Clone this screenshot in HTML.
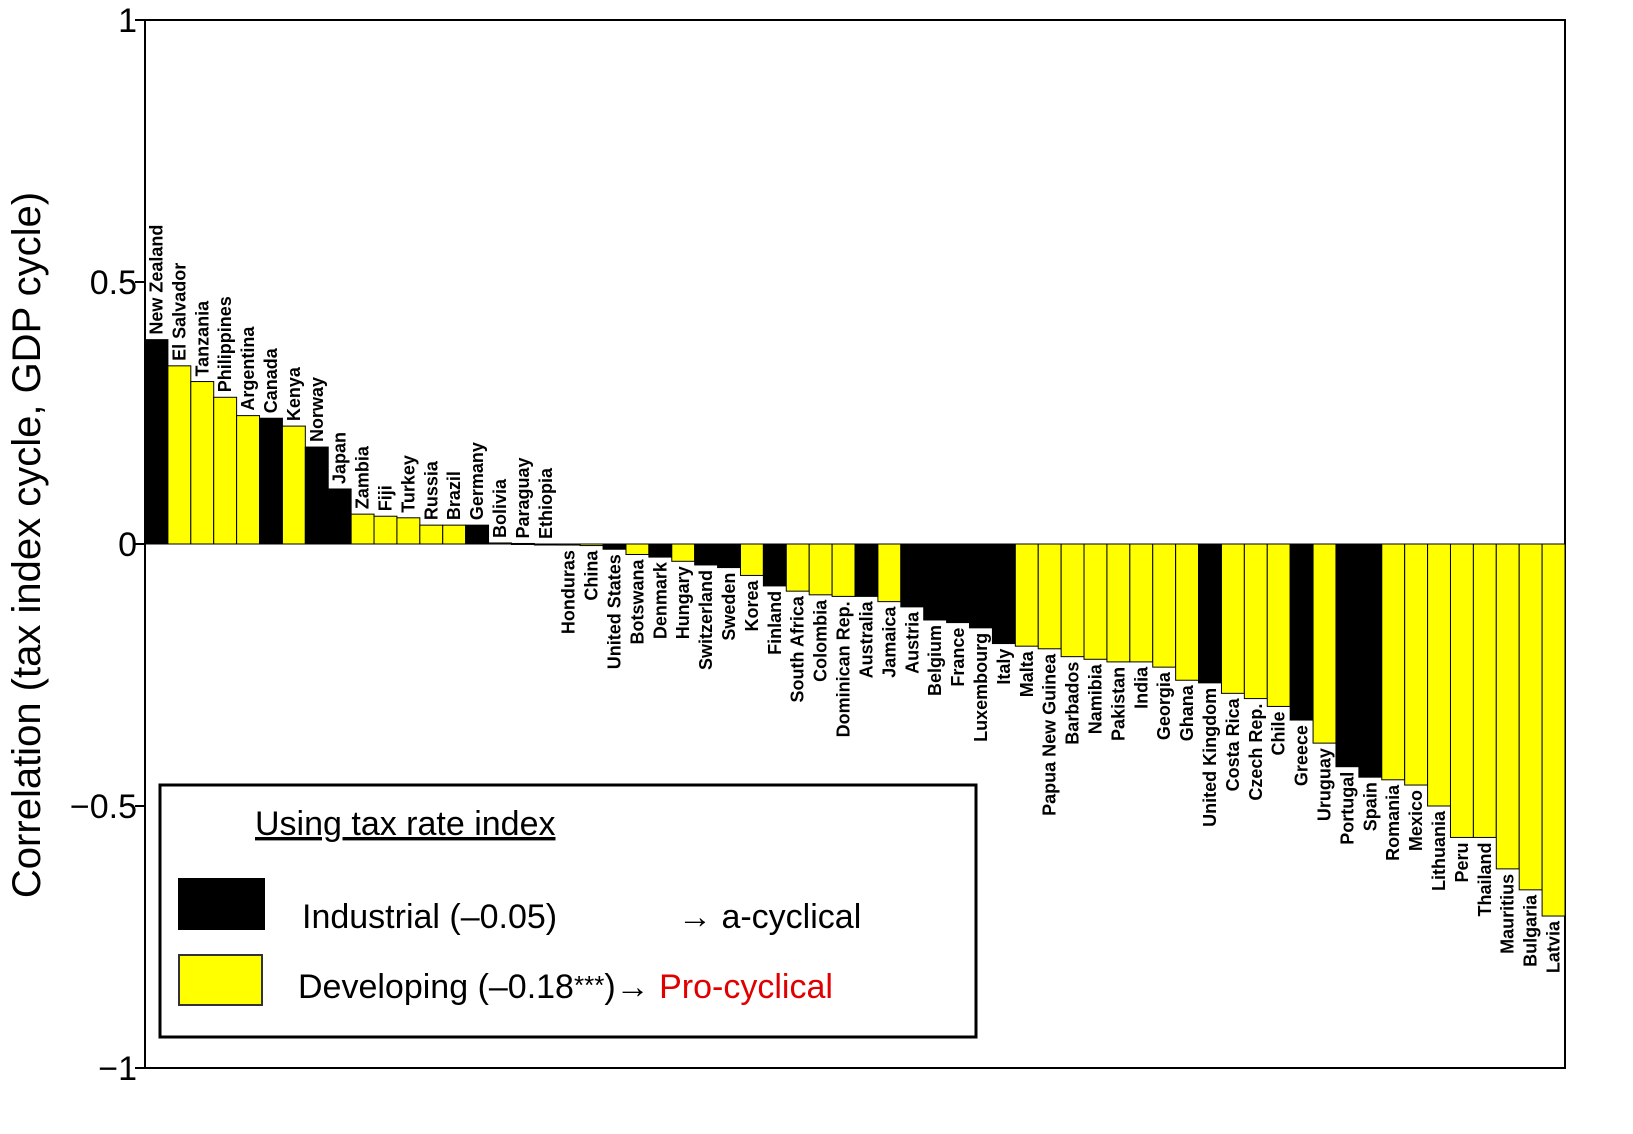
<!DOCTYPE html>
<html><head><meta charset="utf-8"><style>
body{margin:0;background:#fff;}
svg{display:block;font-family:"Liberation Sans",sans-serif;}
</style></head><body>
<svg id="chart" width="1633" height="1134" viewBox="0 0 1633 1134" xmlns="http://www.w3.org/2000/svg">
<g id="axes"></g>
<g id="bars"></g>
<g id="labels"></g>
<text transform="translate(40,545) rotate(-90)" text-anchor="middle" font-size="40">Correlation (tax index cycle, GDP cycle)</text>
<g>
<rect x="160" y="785" width="816" height="252" fill="#fff" stroke="#000" stroke-width="3"/>
<text x="255" y="835" font-size="34" text-decoration="underline">Using tax rate index</text>
<rect x="178" y="878" width="87" height="52" fill="#000"/>
<text x="302" y="928" font-size="34">Industrial (–0.05)</text>
<text x="678" y="928" font-size="34">→ a-cyclical</text>
<rect x="179" y="955" width="83" height="50" fill="#ffff00" stroke="#333" stroke-width="2"/>
<text x="298" y="998" font-size="34">Developing (–0.18<tspan font-size="26" dy="-4">***</tspan><tspan dy="4">)→ </tspan><tspan fill="#e00000">Pro-cyclical</tspan></text>
</g>
</svg>
<script>
const countries=["New Zealand","El Salvador","Tanzania","Philippines","Argentina","Canada","Kenya","Norway","Japan","Zambia","Fiji","Turkey","Russia","Brazil","Germany","Bolivia","Paraguay","Ethiopia","Honduras","China","United States","Botswana","Denmark","Hungary","Switzerland","Sweden","Korea","Finland","South Africa","Colombia","Dominican Rep.","Australia","Jamaica","Austria","Belgium","France","Luxembourg","Italy","Malta","Papua New Guinea","Barbados","Namibia","Pakistan","India","Georgia","Ghana","United Kingdom","Costa Rica","Czech Rep.","Chile","Greece","Uruguay","Portugal","Spain","Romania","Mexico","Lithuania","Peru","Thailand","Mauritius","Bulgaria","Latvia"];
const values=[0.39,0.34,0.31,0.28,0.245,0.24,0.225,0.185,0.105,0.057,0.053,0.05,0.036,0.036,0.036,0.002,0.001,0.0,-0.002,-0.003,-0.01,-0.02,-0.025,-0.033,-0.04,-0.045,-0.06,-0.08,-0.09,-0.097,-0.1,-0.1,-0.11,-0.12,-0.145,-0.15,-0.16,-0.19,-0.195,-0.2,-0.215,-0.22,-0.225,-0.225,-0.235,-0.26,-0.265,-0.285,-0.295,-0.31,-0.336,-0.38,-0.425,-0.445,-0.45,-0.46,-0.5,-0.56,-0.56,-0.62,-0.66,-0.71];
const groups=["I","D","D","D","D","I","D","I","I","D","D","D","D","D","I","D","D","D","D","D","I","D","I","D","I","I","D","I","D","D","D","I","D","I","I","I","I","I","D","D","D","D","D","D","D","D","I","D","D","D","I","D","I","I","D","D","D","D","D","D","D","D"];
const yTicks=[1,0.5,0,-0.5,-1];
const yTickLabels=["1","0.5","0","−0.5","−1"];
const NS="http://www.w3.org/2000/svg";
const X0=145,X1=1565,Y0=20,Y1=1068;
function y(v){return Y0+(1-v)/2*(Y1-Y0);}
const bw=(X1-X0)/countries.length;
function x(i){return X0+i*bw;}
function mk(t,a,p){const e=document.createElementNS(NS,t);for(const k in a)e.setAttribute(k,a[k]);p.appendChild(e);return e;}
const axes=document.getElementById('axes'),bars=document.getElementById('bars'),labels=document.getElementById('labels');
const frame=mk('rect',{x:X0,y:Y0,width:X1-X0,height:Y1-Y0,fill:'none',stroke:'#000','stroke-width':2},axes);


yTicks.forEach((t,i)=>{
 const tk=mk('line',{x1:X0-10,x2:X0,y1:y(t),y2:y(t),stroke:'#000','stroke-width':2},axes);
 
 
 const lb=mk('text',{x:X0-8,y:y(t)+12,'text-anchor':'end','font-size':34},axes);
 lb.textContent=yTickLabels[i];
 
 
});
values.forEach((v,i)=>{
 const top=Math.min(y(v),y(0)),h=Math.max(Math.abs(y(v)-y(0)),1);
 const r=mk('rect',{x:x(i),y:top,width:bw,height:h,fill:groups[i]==="I"?"#000":"#ffff00",stroke:'#000','stroke-width':1},bars);
 
 
 const cx=x(i)+bw/2+6;
 let t;
 if(v>=0){t=mk('text',{transform:`translate(${cx},${y(v)-5}) rotate(-90)`,'text-anchor':'start'},labels);}
 else{t=mk('text',{transform:`translate(${cx},${y(v)+5}) rotate(-90)`,'text-anchor':'end'},labels);}
 t.setAttribute('font-size','18');
 t.setAttribute('font-weight','bold');
 t.setAttribute('font-family','"Liberation Sans Narrow","Liberation Sans",sans-serif');
 t.textContent=countries[i];
 
 
});
const zl=mk('line',{x1:X0,x2:X1,y1:y(0),y2:y(0),stroke:'#000','stroke-width':1},axes);


</script>
</body></html>
